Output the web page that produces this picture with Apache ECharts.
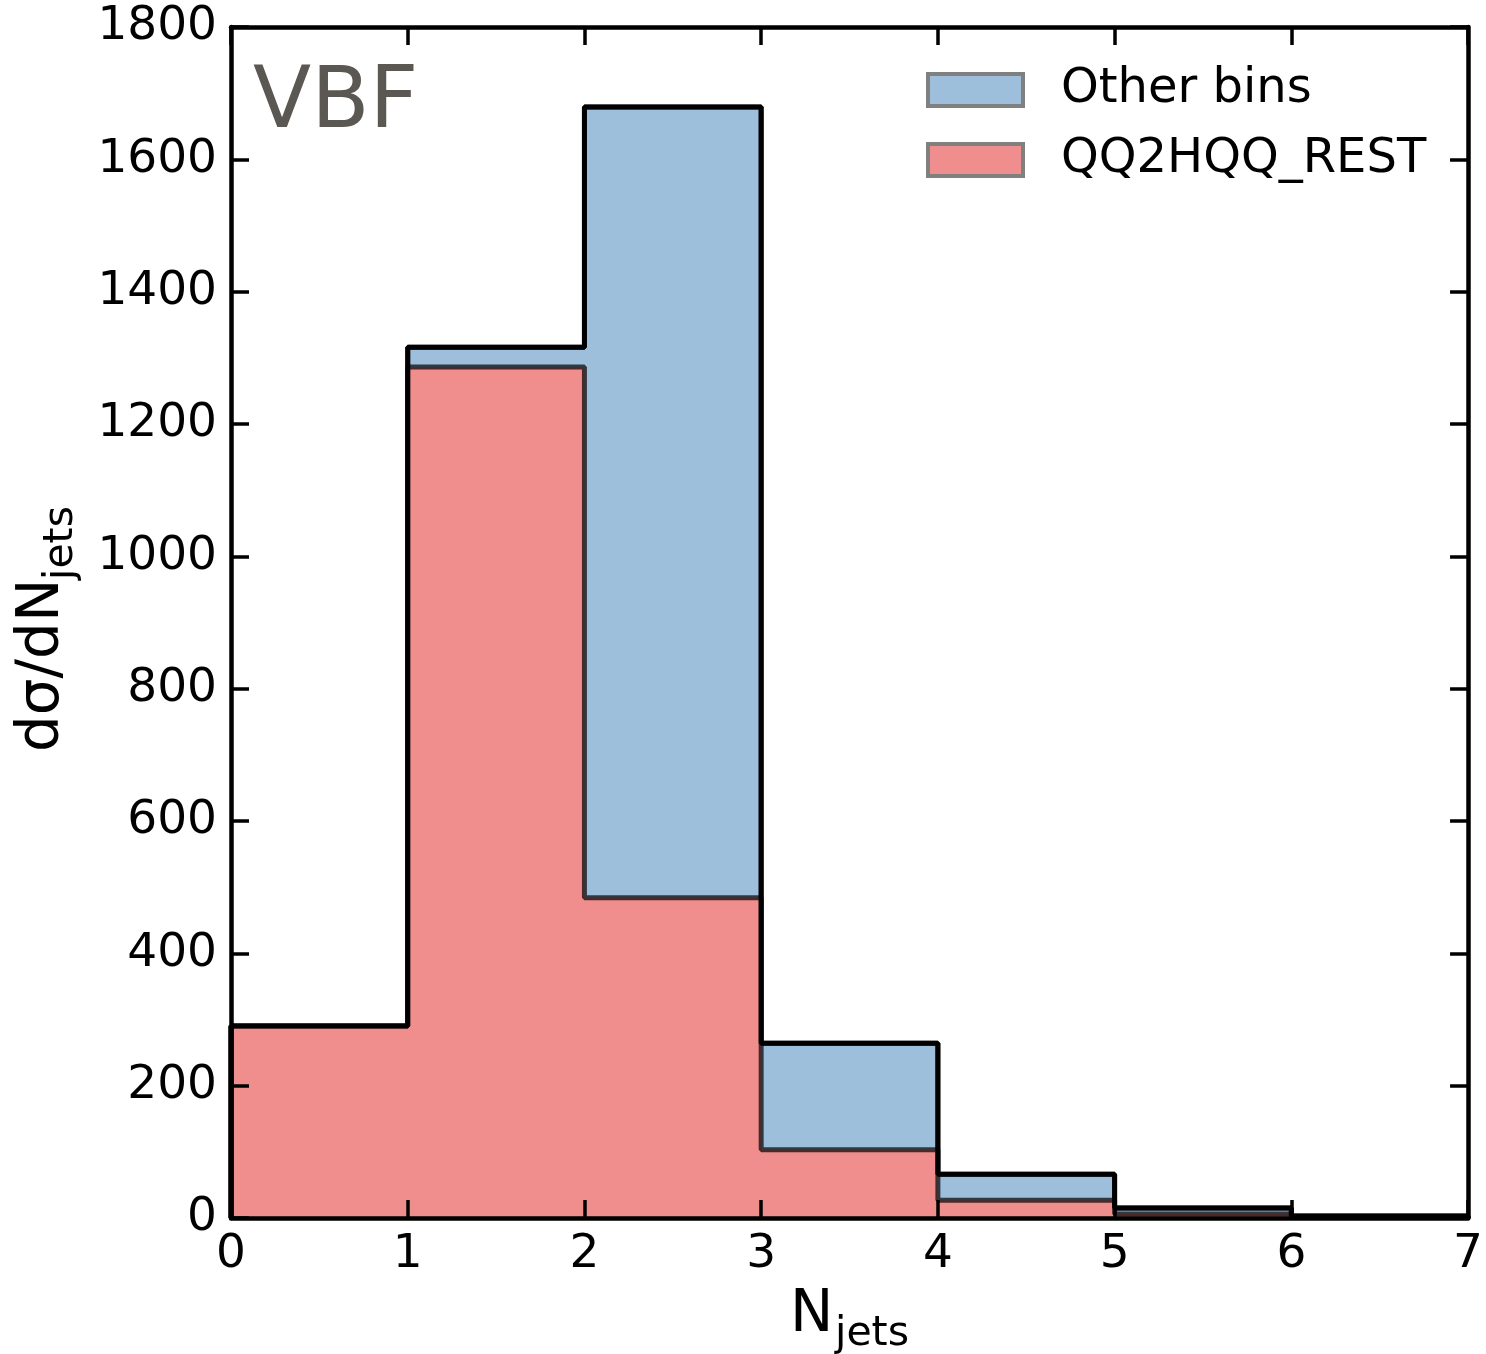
<!DOCTYPE html>
<html>
<head>
<meta charset="utf-8">
<script src="https://cdn.jsdelivr.net/npm/echarts@6/dist/echarts.min.js"></script>
<style>
  html, body { margin: 0; padding: 0; background: #fff; }
  #myChart { width: 1486px; height: 1354px; }
</style>
</head>
<body>
<div id="myChart"></div>
<script>
// bin edges (N jets) and stacked values
const binEdges = [0, 1, 2, 3, 4, 5, 6, 7]
const restValues = [290, 1286, 484, 103, 27, 6, 1]      // QQ2HQQ_REST
const otherValues = [0, 30, 1195, 161, 39, 9, 2]       // Other bins (stacked on top)
const yTicks = [0, 200, 400, 600, 800, 1000, 1200, 1400, 1600, 1800]

const FONT = 'DejaVu Sans'
const RED = '#f08d8d'
const BLUE = '#9ebfdb'

const totals = restValues.map((v, i) => v + otherValues[i])

// step outline (like matplotlib stepfilled) from bin heights
function stepPoints(vals) {
  const pts = [[binEdges[0], 0]]
  vals.forEach((v, i) => {
    pts.push([binEdges[i], v])
    pts.push([binEdges[i + 1], v])
  })
  pts.push([binEdges[binEdges.length - 1], 0])
  return pts
}

const axisCommon = {
  z: 10,
  axisLine: { show: true, onZero: false, lineStyle: { color: '#000', width: 4.5 } },
  axisTick: { show: true, inside: true, length: 18, lineStyle: { color: '#000', width: 3.5 } },
  splitLine: { show: false }
}

const option = {
  animation: false,
  backgroundColor: '#fff',
  grid: { left: 231, right: 15, top: 27, bottom: 136 },
  legend: {
    orient: 'vertical',
    left: 921,
    top: 60,
    icon: 'rect',
    itemWidth: 95,
    itemHeight: 32,
    itemGap: 20,
    textStyle: { fontFamily: FONT, fontSize: 48, color: '#000', lineHeight: 50, padding: [0, 0, 0, 33] },
    data: [
      { name: 'Other bins', itemStyle: { color: BLUE, borderColor: '#808080', borderWidth: 4 } },
      { name: 'QQ2HQQ_REST', itemStyle: { color: RED, borderColor: '#808080', borderWidth: 4 } }
    ]
  },
  xAxis: [
    Object.assign({
      type: 'value', min: 0, max: 7, interval: 1, position: 'bottom',
      axisLabel: { color: '#000', fontFamily: FONT, fontSize: 47, margin: 13 }
    }, axisCommon),
    Object.assign({
      type: 'value', min: 0, max: 7, interval: 1, position: 'top',
      axisLabel: { show: false }
    }, axisCommon)
  ],
  yAxis: [
    Object.assign({
      type: 'value', min: yTicks[0], max: yTicks[yTicks.length - 1], interval: 200, position: 'left',
      axisLabel: { color: '#000', fontFamily: FONT, fontSize: 47, margin: 14, formatter: v => String(v) }
    }, axisCommon),
    Object.assign({
      type: 'value', min: yTicks[0], max: yTicks[yTicks.length - 1], interval: 200, position: 'right',
      axisLabel: { show: false }
    }, axisCommon)
  ],
  series: [
    {
      name: 'Other bins',
      type: 'line',
      data: stepPoints(totals),
      symbol: 'none',
      itemStyle: { color: BLUE },
      lineStyle: { color: 'rgba(0,0,0,0.7)', width: 5 },
      areaStyle: { color: BLUE, opacity: 1 },
      z: 2
    },
    {
      name: 'QQ2HQQ_REST',
      type: 'line',
      data: stepPoints(restValues),
      symbol: 'none',
      itemStyle: { color: RED },
      lineStyle: { color: 'rgba(0,0,0,0.7)', width: 5 },
      areaStyle: { color: RED, opacity: 1 },
      z: 3
    },
    {
      name: 'total',
      type: 'line',
      data: stepPoints(totals),
      symbol: 'none',
      lineStyle: { color: '#000', width: 5 },
      z: 4
    }
  ],
  graphic: [
    {
      type: 'text', left: 253, top: 62,
      style: { text: 'VBF', font: '85px "DejaVu Sans"', fill: '#5b5853' }
    },
    {
      type: 'text', x: 790, y: 1316,
      style: { text: 'N', font: '58px "DejaVu Sans"', fill: '#000', textVerticalAlign: 'middle' }
    },
    {
      type: 'text', x: 835, y: 1334,
      style: { text: 'jets', font: '41px "DejaVu Sans"', fill: '#000', textVerticalAlign: 'middle' }
    },
    {
      type: 'group', x: 43, y: 752, rotation: Math.PI / 2,
      children: [
        {
          type: 'text', x: 0, y: 0,
          style: { text: 'dσ/dN', font: '58px "DejaVu Sans"', fill: '#000', textVerticalAlign: 'middle' }
        },
        {
          type: 'text', x: 172, y: 18,
          style: { text: 'jets', font: '41px "DejaVu Sans"', fill: '#000', textVerticalAlign: 'middle' }
        }
      ]
    }
  ]
}

const chart = echarts.init(document.getElementById('myChart'))
chart.setOption(option)
</script>
</body>
</html>
